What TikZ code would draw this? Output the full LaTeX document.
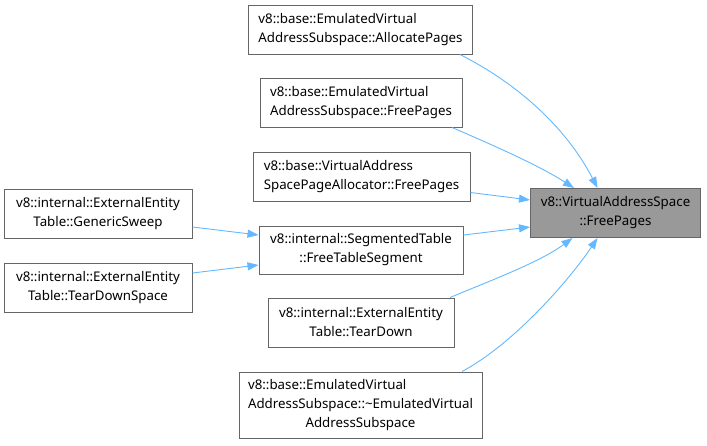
\documentclass[tikz,border=0pt]{standalone}
\usepackage{fontspec}
\setmainfont{Noto Sans}
\usepackage{xcolor}
\usepackage{tikz}
\usetikzlibrary{arrows.meta,positioning,calc}
\definecolor{ink}{HTML}{000000}
\definecolor{boxgray}{HTML}{666666}
\definecolor{focusgray}{HTML}{999999}
\definecolor{callblue}{HTML}{63B8FF}
\tikzset{
  fn/.style={rectangle, draw=boxgray, line width=1pt, fill=white, text=ink, inner sep=0pt,
    font=\fontsize{13.3}{19}\selectfont, minimum height=49pt},
  focus/.style={fn, fill=focusgray},
  call/.style={-{Triangle[length=11pt,width=8pt]}, draw=callblue, line width=0.9pt}
}

\begin{document}
\begin{tikzpicture}[x=1pt, y=1pt,
  leftfn/.style={fn, align=left},
  midfn/.style={fn, align=center}
]
  \useasboundingbox (0,0) rectangle (707,-445);

  \node[focus, align=center, minimum width=170pt] (vasfree) at (615.5,-213) {v8::VirtualAddressSpace\\::FreePages};

  \node[leftfn, minimum width=224pt] (emualloc) at (360.5,-29.5) {v8::base::EmulatedVirtual\\AddressSubspace::AllocatePages};
  \node[leftfn, minimum width=202pt] (emufree) at (361,-102.5) {v8::base::EmulatedVirtual\\AddressSubspace::FreePages};
  \node[leftfn, minimum width=217pt] (vaspafree) at (361.5,-176.5) {v8::base::VirtualAddress\\SpacePageAllocator::FreePages};
  \node[midfn, minimum width=204pt, minimum height=48pt] (segfree) at (361,-250) {v8::internal::SegmentedTable\\::FreeTableSegment};
  \node[midfn, minimum width=186pt] (eetdown) at (361,-322.5) {v8::internal::ExternalEntity\\Table::TearDown};
  \node[midfn, minimum width=243pt, minimum height=66pt] (emudtor) at (360.5,-405)
    {\rlap{v8::base::EmulatedVirtual}\hphantom{AddressSubspace::\textasciitilde EmulatedVirtual}\\AddressSubspace::\textasciitilde EmulatedVirtual\\AddressSubspace};

  \node[midfn, minimum width=188pt] (eesweep) at (98,-213.5) {v8::internal::ExternalEntity\\Table::GenericSweep};
  \node[midfn, minimum width=188pt] (eetdspace) at (98,-287.5) {v8::internal::ExternalEntity\\Table::TearDownSpace};

  % callers of FreePages
  \draw[call] ([xshift=99.5pt]emualloc.south) .. controls (520,-85) and (567,-129) .. ([xshift=-18pt]vasfree.north);
  \draw[call] ([xshift=91pt]emufree.south) .. controls (495,-146) and (540,-166) .. ([xshift=-41.5pt]vasfree.north);
  \draw[call] ([yshift=-16pt]vaspafree.east) -- ([yshift=13pt]vasfree.west);
  \draw[call] ([yshift=15pt]segfree.east) -- ([yshift=-14pt]vasfree.west);
  \draw[call] ([xshift=89pt]eetdown.north) .. controls (492,-280) and (540,-262) .. ([xshift=-43pt]vasfree.south);
  \draw[call] ([xshift=101.5pt]emudtor.north) .. controls (512,-345) and (568,-282) .. ([xshift=-18pt]vasfree.south);

  % callers of FreeTableSegment
  \draw[call] ([yshift=-13.5pt]eesweep.east) -- ([yshift=15pt]segfree.west);
  \draw[call] ([yshift=14.5pt]eetdspace.east) -- ([yshift=-15pt]segfree.west);
\end{tikzpicture}
\end{document}
